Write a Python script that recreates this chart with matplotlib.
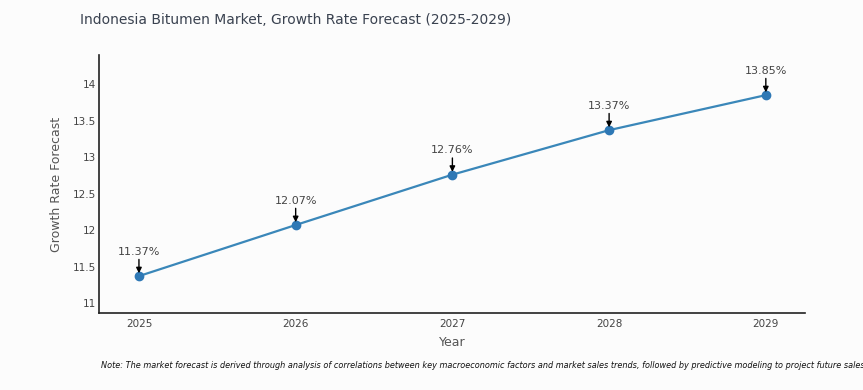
import matplotlib.pyplot as plt

# datos
years = [2025, 2026, 2027, 2028, 2029]
growth = [11.37, 12.07, 12.76, 13.37, 13.85]
labels = ['11.37%', '12.07%', '12.76%', '13.37%', '13.85%']
yticks = [11, 11.5, 12, 12.5, 13, 13.5, 14]

fig = plt.figure(figsize=(8.63, 3.9), dpi=100, facecolor='#fcfcfc')
ax = fig.add_axes([0.1147, 0.1974, 0.8181, 0.6616])
ax.set_facecolor('#fcfcfc')

ax.plot(years, growth, '-', color='#3a87b9', linewidth=1.6, zorder=2)
ax.plot(years, growth, 'o', color='#2e78b5', markersize=6, zorder=3)

for x, y, t in zip(years, growth, labels):
    ax.annotate(t, xy=(x, y), xytext=(0, 14), textcoords='offset points',
                ha='center', va='bottom', fontsize=8, color='#444444',
                arrowprops=dict(arrowstyle='-|>', color='black', lw=1,
                                mutation_scale=8, shrinkA=0, shrinkB=2))

ax.set_xlim(2024.745, 2029.25)
ax.set_ylim(10.864, 14.4)
ax.set_xticks(years)
ax.set_xticklabels([str(y) for y in years])
ax.set_yticks(yticks)
ax.set_yticklabels(['11', '11.5', '12', '12.5', '13', '13.5', '14'])
ax.tick_params(axis='y', length=0, labelsize=7.5, colors='#444444', pad=2)
ax.tick_params(axis='x', length=0, labelsize=7.5, colors='#444444', pad=4)

for s in ['top', 'right']:
    ax.spines[s].set_visible(False)
for s in ['left', 'bottom']:
    ax.spines[s].set_color('#222222')
    ax.spines[s].set_linewidth(1.2)

ax.set_xlabel('Year', fontsize=9, color='#555555', labelpad=5)
ax.set_ylabel('Growth Rate Forecast', fontsize=9, color='#555555', labelpad=7)

fig.text(0.0927, 0.948, 'Indonesia Bitumen Market, Growth Rate Forecast (2025-2029)',
         fontsize=10, color='#3a4250', ha='left', va='center')
fig.text(0.117, 0.062, 'Note: The market forecast is derived through analysis of correlations between key macroeconomic factors and market sales trends, followed by predictive modeling to project future sales',
         fontsize=5.9, style='italic', color='#111111', ha='left', va='center')

plt.savefig('out.png', dpi=100, facecolor=fig.get_facecolor())
